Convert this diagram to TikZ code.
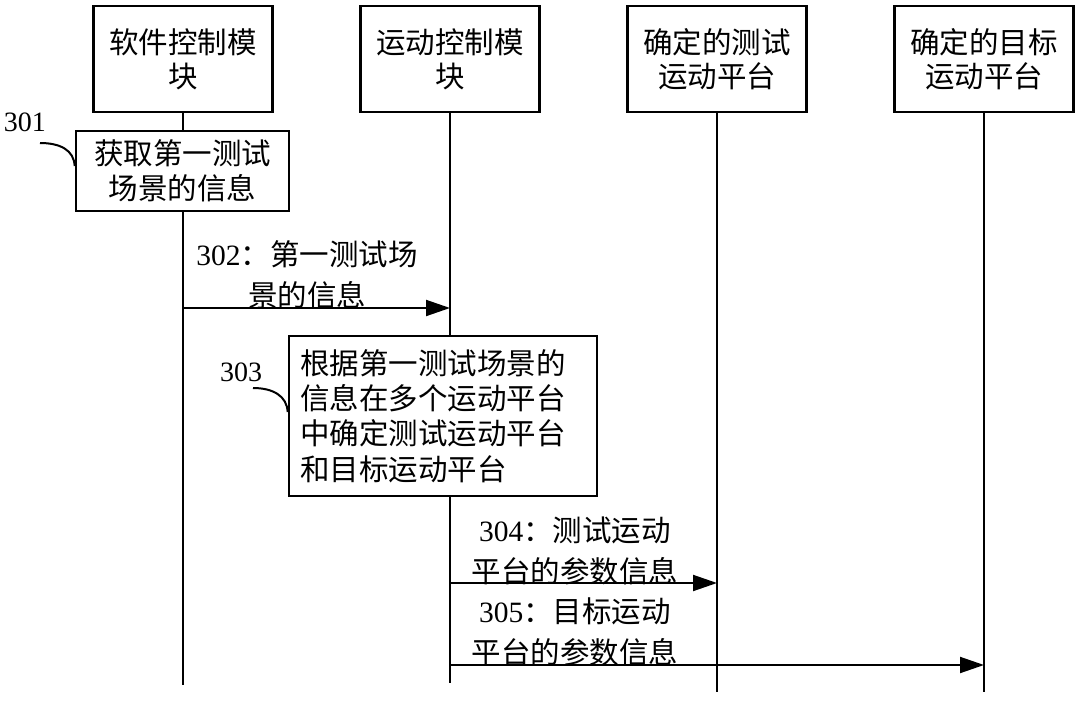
\documentclass[tikz,border=0pt]{standalone}
\usepackage{fontspec}
\setmainfont{Liberation Serif}
\newfontfamily\cjk{Noto Sans CJK SC}
\usetikzlibrary{arrows.meta}
\newcommand\dg[1]{{\rmfamily #1}}
\begin{document}
\begin{tikzpicture}[x=1pt,y=-1pt,
  hdr/.style={draw,line width=2.7pt,fill=white,minimum width=179pt,minimum height=106pt,
    align=center,inner sep=0pt,font={\cjk\fontsize{29.5}{34}\selectfont}},
  stepbox/.style={draw,line width=2.7pt,fill=white,inner sep=0pt,
    font={\cjk\fontsize{29.5}{35.3}\selectfont}},
  life/.style={line width=2pt},
  msg/.style={line width=2pt,-{Triangle[length=24pt,width=16pt]}},
  msglabel/.style={align=center,inner sep=0pt,font={\cjk\fontsize{29.5}{41}\selectfont}},
  numlabel/.style={inner sep=0pt,font={\rmfamily\fontsize{28}{30}\selectfont}},
  lead/.style={line width=2pt}]
\useasboundingbox (0,0) rectangle (1080,701);
% header boxes
\node[hdr] (b1) at (183,59) {软件控制模\\块};
\node[hdr] (b2) at (450,59) {运动控制模\\块};
\node[hdr] (b3) at (717,59) {确定的测试\\运动平台};
\node[hdr] (b4) at (984,59) {确定的目标\\运动平台};
% lifeline ends
\coordinate (e1) at (183,685);
\coordinate (e2) at (450,683);
\coordinate (e3) at (717,692);
\coordinate (e4) at (984,692);
\draw[life] (b1.south) -- (e1);
\draw[life] (b2.south) -- (e2);
\draw[life] (b3.south) -- (e3);
\draw[life] (b4.south) -- (e4);
% step boxes
\node[stepbox,minimum width=213pt,minimum height=80pt,align=center] (s301) at (182.5,171) {获取第一测试\\场景的信息};
\node[stepbox,text width=286pt,inner xsep=11pt,minimum height=160pt,align=left] (s303) at (443,416)
  {根据第一测试场景的\\信息在多个运动平台\\中确定测试运动平台\\和目标运动平台};
% step labels and leaders
\node[numlabel] (l301) at (25,122) {301};
\node[numlabel] (l303) at (241,372) {303};
\coordinate (c301) at (40,143);
\coordinate (c303) at (253,388);
\draw[lead] (c301) .. controls (60,143) and (74,150) .. (s301.west |- 0,166);
\draw[lead] (c303) .. controls (273,388) and (287,396) .. (s303.west |- 0,412);
% messages
\draw[msg] (b1.south |- 0,308) -- (b2.south |- 0,308);
\draw[msg] (b2.south |- 0,583) -- (b3.south |- 0,583);
\draw[msg] (b2.south |- 0,665) -- (b4.south |- 0,665);
\node[msglabel] (m302) at (307,275) {\dg{302}：第一测试场\\景的信息};
\node[msglabel] (m304) at (575,551) {\dg{304}：测试运动\\平台的参数信息};
\node[msglabel] (m305) at (575,632) {\dg{305}：目标运动\\平台的参数信息};
\end{tikzpicture}
\end{document}
